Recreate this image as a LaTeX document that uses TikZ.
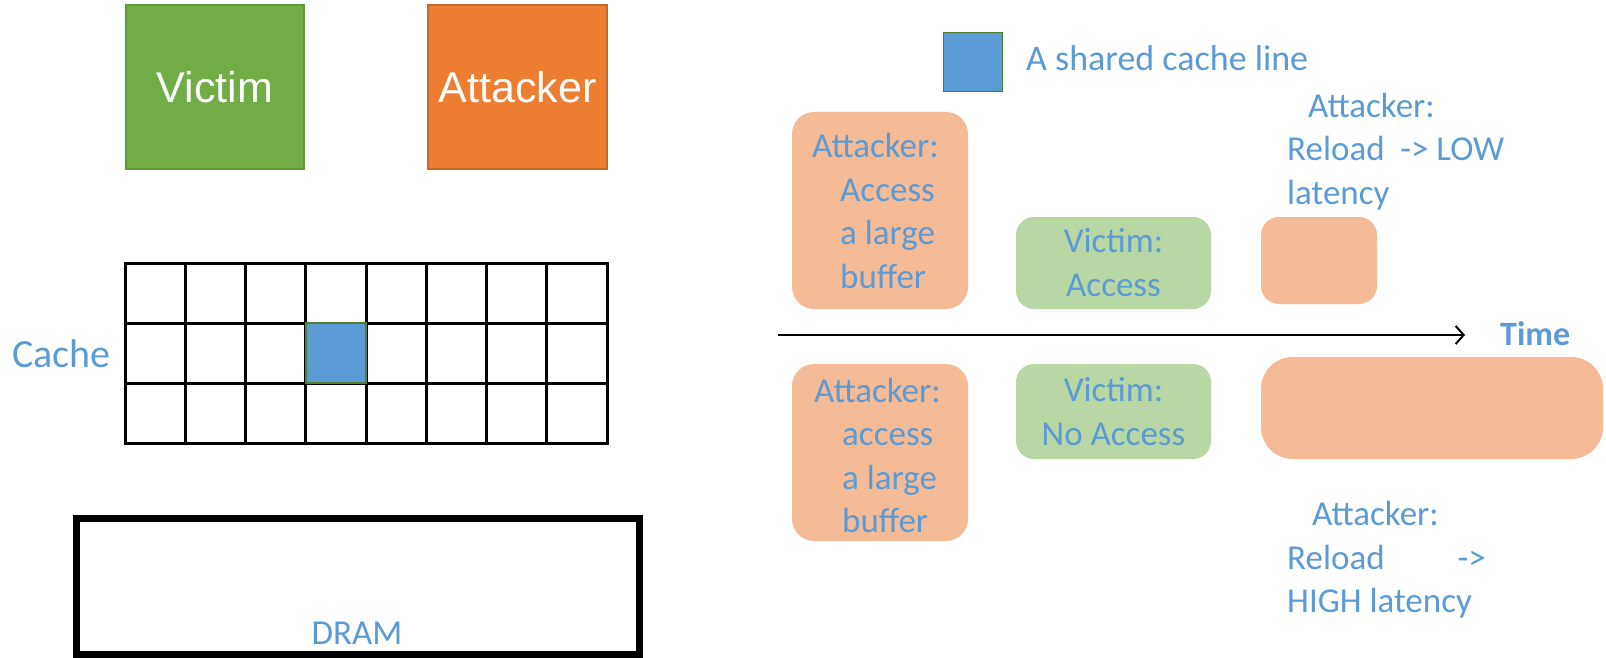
\documentclass[tikz,border=0pt]{standalone}
\usepackage{fontspec}
\setmainfont{Carlito}
\newfontfamily\arialfont{Liberation Sans}
\usetikzlibrary{arrows.meta}

\definecolor{victimgreen}{HTML}{70AD47}
\definecolor{victimedge}{HTML}{5E9A3A}
\definecolor{attackorange}{HTML}{ED7D31}
\definecolor{attackedge}{HTML}{C7692A}
\definecolor{lightorange}{HTML}{F5BB96}
\definecolor{lightgreen}{HTML}{B9D7A4}
\definecolor{labelblue}{HTML}{5B9BD5}
\definecolor{lineblue}{HTML}{5B9BD5}
\definecolor{lineedge}{HTML}{507E32}

\begin{document}
\begin{tikzpicture}[x=1pt,y=-1pt,
  party/.style={minimum width=178pt, minimum height=164pt, inner sep=0pt,
    line width=1.2pt, text=white, font=\arialfont\fontsize{43}{50}\selectfont},
  attackphase/.style={fill=lightorange, draw=none, inner sep=0pt, rounded corners=22pt},
  victimphase/.style={fill=lightgreen, draw=none, inner sep=0pt, rounded corners=18pt,
    text=labelblue, align=center, font=\fontsize{35}{44}\selectfont},
  txt/.style={text=labelblue, inner sep=0pt, align=left, anchor=base west,
    font=\fontsize{35}{43.5}\selectfont},
  gridline/.style={line width=3pt, draw=black},
  cacheline/.style={fill=lineblue, draw=lineedge, line width=1.5pt, inner sep=0pt}]

\useasboundingbox (0,0) rectangle (1606,658);

% --- the two processes ---
\node[party, fill=victimgreen, draw=victimedge] (victim) at (215,87) {Victim};
\node[party, fill=attackorange, draw=attackedge, minimum width=179pt] (attacker) at (517.5,87) {Attacker};

% --- the cache: 3 sets x 8 ways ---
\foreach \i in {1,...,7}
  \draw[gridline] (125+\i*60.25,263) -- (125+\i*60.25,443);
\foreach \j in {1,2}
  \draw[gridline] (125,263+\j*60) -- (607,263+\j*60);
\draw[gridline] (125,263) rectangle (607,443);
\node[cacheline, minimum width=60.25pt, minimum height=60pt] (shared) at (335.875,353) {};
\node[txt, font=\fontsize{40}{48}\selectfont] (cachelabel) at (12,367) {Cache};

% --- main memory ---
\node[draw=black, line width=7pt, minimum width=563pt, minimum height=135.5pt, inner sep=0pt] (dram) at (358,586.25) {};
\node[txt, anchor=base] (dramlabel) at (357,644) {DRAM};

% --- legend ---
\node[cacheline, minimum size=59pt] (legend) at (973,62) {};
\node[txt, font=\fontsize{36}{43}\selectfont] (legendlabel) at (1026,70.5) {A shared cache line};

% --- time axis ---
\coordinate (tstart) at (778,335);
\coordinate (tend) at (1465,335);
\draw[line width=2pt, -{Straight Barb[length=8pt,width=18pt,line width=2pt]}] (tstart) -- (tend);
\node[txt, font=\bfseries\fontsize{34}{40}\selectfont] (timelabel) at (1500,345) {Time};

% --- upper timeline: victim accesses the line ---
% (multi-line labels are anchored at the baseline of their last line)
\node[attackphase, minimum width=176pt, minimum height=197pt] (flush1) at (880,210.5) {};
\node[txt] (flush1text) at (812,288) {Attacker:\\\hspace*{28pt}Access\\\hspace*{28pt}a large\\\hspace*{28pt}buffer};
\node[victimphase, minimum width=195pt, minimum height=92pt] (access1) at (1113.5,263) {Victim:\\Access};
\node[attackphase, rounded corners=18pt, minimum width=116pt, minimum height=87pt] (reload1) at (1319,260.5) {};
\node[txt] (reload1text) at (1287,204) {\hspace*{21pt}Attacker:\\Reload~~-> LOW\\latency};

% --- lower timeline: victim does not access the line ---
\node[attackphase, minimum width=176pt, minimum height=177pt] (flush2) at (880,452.5) {};
\node[txt] (flush2text) at (814,532.5) {Attacker:\\\hspace*{28pt}access\\\hspace*{28pt}a large\\\hspace*{28pt}buffer};
\node[victimphase, minimum width=195pt, minimum height=95pt] (access2) at (1113.5,411.5) {Victim:\\No Access};
\node[attackphase, rounded corners=32pt, minimum width=342pt, minimum height=102pt] (reload2) at (1432,408) {};
\node[txt] (reload2text) at (1287,612.5) {\hspace*{25pt}Attacker:\\Reload\hspace*{73pt}->\\HIGH latency};

\end{tikzpicture}
\end{document}
